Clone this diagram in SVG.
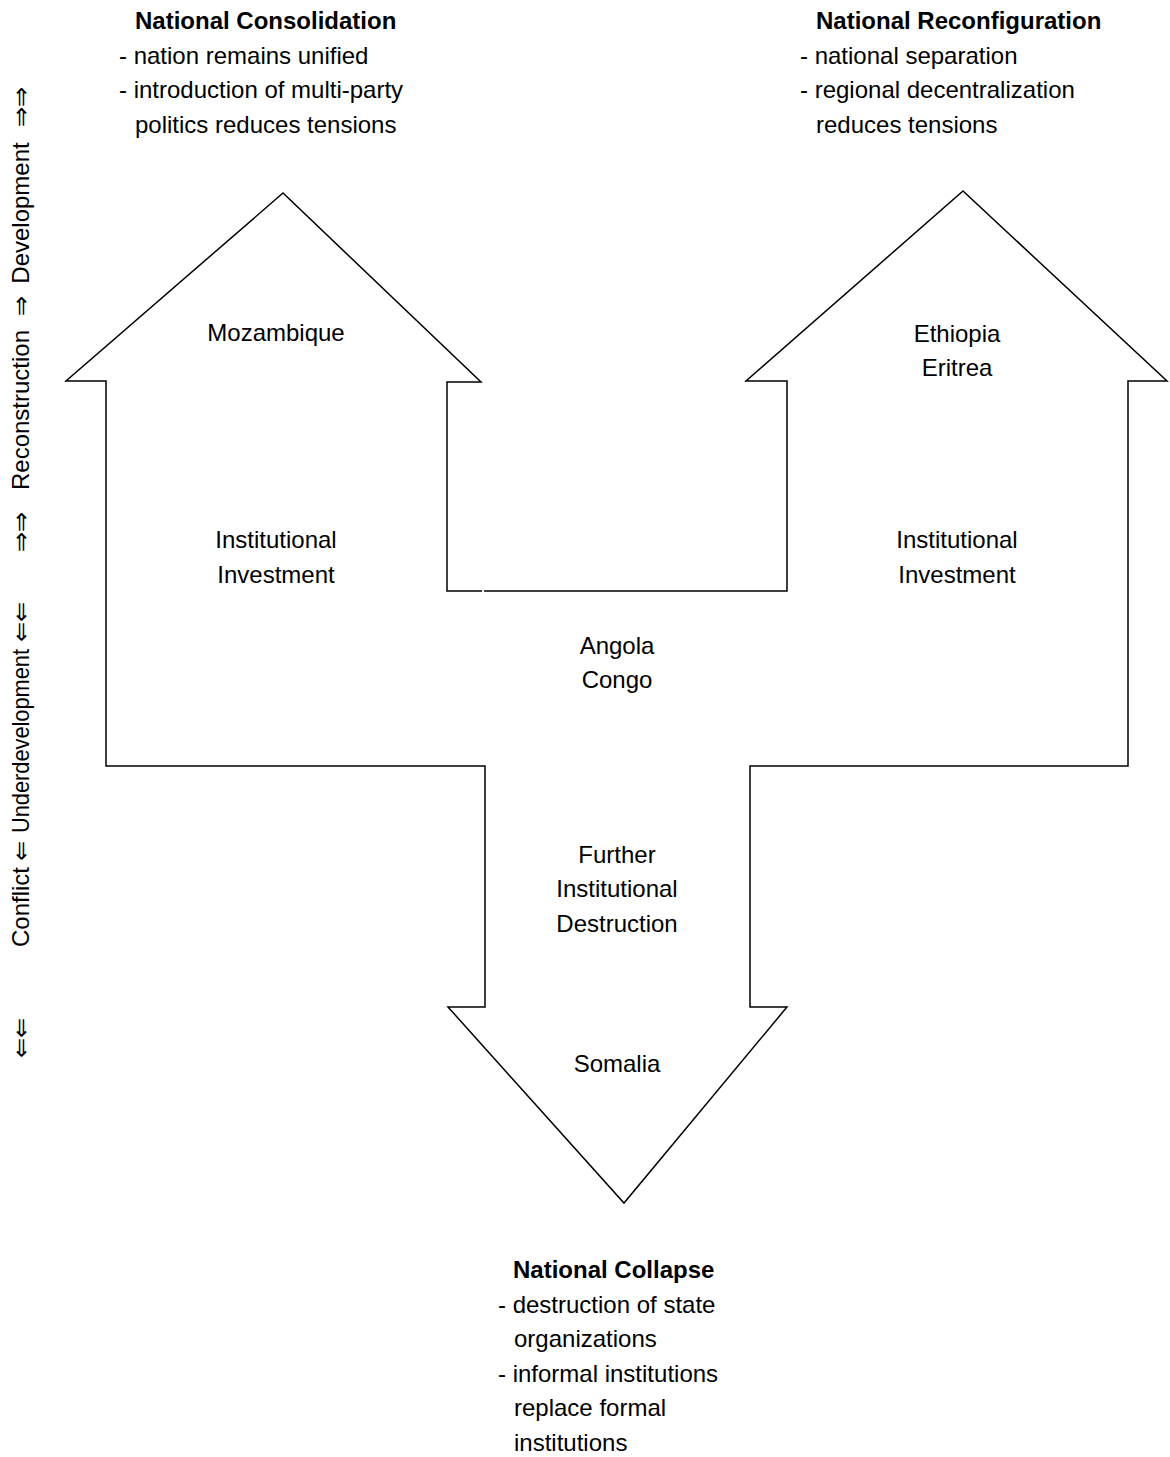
<svg xmlns="http://www.w3.org/2000/svg" width="1170" height="1457" viewBox="0 0 1170 1457">
<style>
text{font-family:"Liberation Sans",Arial,"DejaVu Sans",sans-serif;font-size:24px;fill:#000}
.b{font-weight:bold}
.c{text-anchor:middle}
.shape{fill:none;stroke:#000;stroke-width:1.5;stroke-linejoin:miter}
.ax{font-family:"DejaVu Sans","Liberation Sans",sans-serif;font-size:24px}
</style>
<rect width="1170" height="1457" fill="#fff"/>
<g id="arrows">
<path class="shape" d="M482,591 L447,591 L447,382 L481,382 L283,193 L66,381 L106,381 L106,766 L485,766 L485,1007 L448,1007 L624,1203 L787,1007 L750,1007 L750,766 L1128,766 L1128,381 L1167,381 L963,191 L746,381 L787,381 L787,591 L484,591"/>
</g>
<g id="consolidation">
<text class="b" x="135" y="29">National Consolidation</text>
<text x="119" y="63.5">- nation remains unified</text>
<text x="119" y="98">- introduction of multi-party</text>
<text x="135" y="132.5">politics reduces tensions</text>
</g>
<g id="reconfiguration">
<text class="b" x="816" y="29">National Reconfiguration</text>
<text x="800" y="63.5">- national separation</text>
<text x="800" y="98">- regional decentralization</text>
<text x="816" y="132.5">reduces tensions</text>
</g>
<g id="collapse">
<text class="b" x="513" y="1278">National Collapse</text>
<text x="498" y="1312.5">- destruction of state</text>
<text x="514" y="1347">organizations</text>
<text x="498" y="1381.5">- informal institutions</text>
<text x="514" y="1416">replace formal</text>
<text x="514" y="1450.5">institutions</text>
</g>
<g id="mozambique"><text class="c" x="276" y="341">Mozambique</text></g>
<g id="ethiopia-eritrea"><text class="c" x="957" y="342">Ethiopia</text><text class="c" x="957" y="376">Eritrea</text></g>
<g id="left-investment"><text class="c" x="276" y="548">Institutional</text><text class="c" x="276" y="583">Investment</text></g>
<g id="right-investment"><text class="c" x="957" y="548">Institutional</text><text class="c" x="957" y="583">Investment</text></g>
<g id="angola-congo"><text class="c" x="617" y="654">Angola</text><text class="c" x="617" y="688">Congo</text></g>
<g id="destruction"><text class="c" x="617" y="863">Further</text><text class="c" x="617" y="897">Institutional</text><text class="c" x="617" y="932">Destruction</text></g>
<g id="somalia"><text class="c" x="617" y="1072">Somalia</text></g>
<g id="axis">
<text class="c ax" transform="translate(29,107) rotate(-90)">⇒⇒</text>
<text class="c" transform="translate(29,213) rotate(-90)">Development</text>
<text class="c ax" transform="translate(29,306) rotate(-90)">⇒</text>
<text class="c" transform="translate(29,410) rotate(-90)">Reconstruction</text>
<text class="c ax" transform="translate(29,532) rotate(-90)">⇒⇒</text>
<text class="c ax" transform="translate(29,622) rotate(-90)">⇐⇐</text>
<text class="c" transform="translate(29,741) rotate(-90)" textLength="184" lengthAdjust="spacingAndGlyphs">Underdevelopment</text>
<text class="c ax" transform="translate(29,851) rotate(-90)">⇐</text>
<text class="c" transform="translate(29,907) rotate(-90)">Conflict</text>
<text class="c ax" transform="translate(29,1038) rotate(-90)">⇐⇐</text>
</g>
</svg>
